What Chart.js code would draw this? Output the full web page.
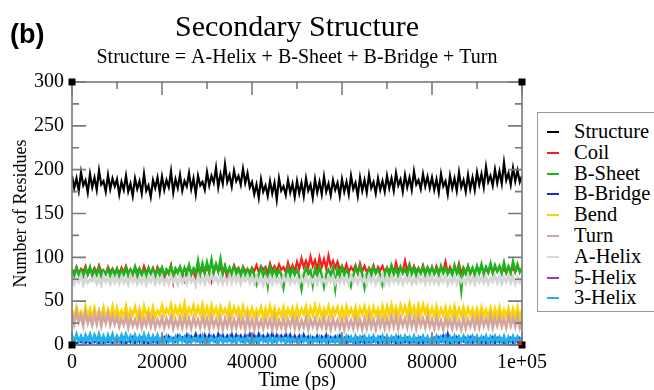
<!DOCTYPE html>
<html>
<head>
<meta charset="utf-8">
<script src="https://cdn.jsdelivr.net/npm/chart.js@4.4.1/dist/chart.umd.min.js"></script>
<style>
  body { margin: 0; background: #fff; }
  #contenedor { position: relative; width: 654px; height: 390px; overflow: hidden; }
  #etiqueta { position: absolute; left: 10px; top: 19px; font: bold 27px "Liberation Sans", Arial, sans-serif; }
  #leyenda { position: absolute; left: 537px; top: 112px; width: 135px; height: 198px; border: 1px solid #999; background: #fff; }
  .fila { position: absolute; left: 0; height: 21px; font: 20.5px "Liberation Serif", serif; line-height: 21px; }
  .fila span { position: absolute; left: 9px; top: 10px; width: 12px; height: 2px; }
  .fila b { position: absolute; left: 36px; font-weight: normal; white-space: nowrap; }
</style>
</head>
<body>
<div id="contenedor">
  <canvas id="myChart" width="654" height="390"></canvas>
  <div id="etiqueta">(b)</div>
  <div id="leyenda"></div>
</div>
<script>
const nombres = ["Structure","Coil","B-Sheet","B-Bridge","Bend","Turn","A-Helix","5-Helix","3-Helix"]
const colores = ["#000000","#ff1a1a","#1db31d","#1a2ec8","#fad400","#d4a59e","#d6d6d6","#9a3fb0","#22b2e8"]
const grosores = [2.2, 2.2, 2.5, 2, 2.6, 2.6, 2.8, 1.5, 2.8]
// capa de dibujo: numero mayor queda debajo
const capas = [9, 8, 7, 6, 5, 4, 3, 2, 1]

const tiempoFinal = 100000

// una fila = 10000 ps, una muestra cada 500 ps
const structure = [
  193,179,190,176,197,182,188,174,195,180,191,177,199,183,187,175,194,178,190,181,
  189,172,186,177,193,175,184,170,190,178,187,173,195,176,182,169,188,179,191,174,
  192,177,188,180,198,174,189,179,194,176,187,181,196,178,190,172,193,182,186,177,
  197,182,193,185,202,180,195,184,206,186,194,181,199,187,193,183,201,185,196,180,
  186,172,183,168,189,175,182,170,187,173,185,166,190,176,181,171,188,174,184,169,
  187,173,185,170,190,176,183,168,189,174,186,172,192,175,184,171,188,177,185,170,
  189,175,186,172,193,178,185,170,191,176,188,174,194,179,186,173,190,177,187,175,
  193,179,190,176,196,182,189,175,194,180,191,177,198,183,188,178,195,181,192,179,
  191,177,189,174,195,181,187,172,193,179,190,176,197,180,188,175,194,178,191,177,
  197,183,195,180,203,186,193,182,200,185,198,184,208,188,196,183,202,187,199,186,
  193
]
const coil = [
  86,82,89,81,87,84,90,80,86,83,88,82,91,84,85,81,89,83,87,82,
  87,81,88,83,90,82,86,80,89,84,87,81,90,83,86,82,88,80,89,84,
  88,73,86,83,91,72,87,84,89,82,74,86,90,83,87,71,88,84,86,82,
  89,83,73,86,92,84,88,82,90,74,87,83,91,85,88,82,89,84,87,83,
  88,84,91,83,90,86,89,82,93,85,90,84,92,86,89,83,94,85,91,84,
  95,87,99,89,96,88,101,90,97,86,100,89,98,87,102,90,96,88,95,87,
  90,84,92,83,89,85,91,82,93,84,90,83,88,84,91,82,89,85,90,83,
  88,83,91,82,94,84,89,83,96,85,92,83,90,84,88,82,91,83,89,84,
  87,82,90,83,88,84,95,82,89,83,87,84,93,82,88,83,90,81,87,82,
  88,83,89,84,87,82,90,83,88,84,89,83,87,82,90,84,88,83,89,84,
  86
]
const bSheet = [
  86,79,88,80,85,78,87,81,89,79,86,80,88,78,85,81,87,79,86,80,
  87,78,85,80,88,79,86,81,89,78,87,80,85,79,88,81,86,78,87,80,
  88,80,86,81,90,79,87,82,89,80,88,81,91,80,87,82,96,81,93,82,
  94,83,97,82,92,84,98,81,90,82,88,80,89,81,87,79,88,80,86,79,
  87,80,70,81,88,79,86,68,89,80,87,79,85,81,66,80,88,79,87,80,
  86,79,64,80,88,81,85,69,87,80,89,79,67,81,86,80,88,65,87,79,
  89,80,86,81,68,79,88,82,90,80,66,81,87,79,89,82,86,80,69,81,
  88,80,90,81,87,79,89,82,86,80,91,81,88,79,87,82,89,80,88,81,
  89,81,87,80,90,82,88,81,86,80,91,82,89,63,87,81,90,82,88,80,
  90,82,92,81,89,83,93,82,91,84,90,82,94,83,89,82,95,84,92,83,
  88
]
const bBridge = [
  2,6,1,5,3,7,2,6,1,5,3,6,1,7,2,5,3,6,2,5,
  3,7,2,8,1,6,3,9,2,7,3,8,2,6,1,7,3,8,2,7,
  4,9,3,10,5,8,4,11,6,9,5,12,4,10,6,13,5,11,4,12,
  5,12,6,11,4,13,7,12,5,11,6,13,5,12,7,11,4,12,6,13,
  6,12,4,13,7,11,5,12,6,14,5,12,7,11,6,13,5,12,4,11,
  5,11,4,12,6,10,3,9,5,11,4,10,5,12,3,9,4,10,5,11,
  3,8,2,9,4,7,2,8,3,9,2,7,3,8,4,7,2,9,3,8,
  2,7,3,8,1,9,2,7,3,8,2,6,3,7,1,8,2,7,3,6,
  2,8,3,9,4,11,3,13,2,8,3,9,2,7,4,8,3,9,2,8,
  3,7,2,8,1,7,3,9,2,8,3,7,2,6,3,8,2,7,3,8,
  4
]
const bend = [
  40,30,43,33,38,29,44,32,41,31,42,30,39,33,43,29,40,32,44,31,
  42,31,39,33,44,30,40,34,43,32,41,30,44,33,40,31,43,32,39,34,
  45,34,41,36,46,33,43,35,44,34,47,33,42,36,45,34,43,35,46,33,
  43,33,45,35,42,32,44,36,41,34,45,33,43,35,42,32,44,34,41,33,
  42,32,40,34,43,31,41,33,44,32,42,31,40,33,43,32,41,34,42,31,
  43,33,41,35,44,32,42,34,45,33,43,32,41,34,44,33,42,35,43,32,
  42,32,44,34,41,33,43,31,42,35,44,33,42,32,43,34,41,33,44,32,
  44,34,46,35,43,33,45,36,44,34,47,35,43,33,45,34,46,36,44,33,
  42,33,44,32,41,34,43,31,42,33,44,32,41,33,43,32,42,34,41,32,
  41,31,43,33,40,32,42,30,41,32,43,31,40,33,42,30,41,32,43,31,
  40
]
const turn = [
  36,24,38,26,34,22,37,25,33,23,35,24,37,22,34,25,36,23,33,24,
  32,21,30,23,33,20,31,22,29,21,32,20,30,22,33,21,31,20,29,22,
  31,20,30,22,32,19,29,21,31,20,32,21,30,19,31,22,29,20,32,21,
  30,19,32,21,29,20,31,18,30,21,32,19,29,20,31,21,30,18,32,20,
  29,18,31,20,28,19,30,21,29,18,31,19,28,20,30,18,29,21,31,19,
  30,19,28,20,31,18,29,21,30,19,28,20,31,19,29,18,30,20,28,19,
  29,18,30,20,28,19,31,20,29,18,30,19,32,20,29,18,31,21,30,19,
  30,20,32,21,33,19,31,22,30,20,33,21,31,19,32,22,30,20,33,21,
  29,19,31,20,28,18,30,21,29,19,31,20,28,18,30,19,29,21,31,20,
  31,20,32,22,30,21,33,20,31,22,32,21,30,20,33,22,31,21,32,20,
  30
]
const aHelix = [
  78,70,76,72,79,69,77,71,75,73,78,70,76,69,79,72,77,70,78,71,
  77,70,78,71,76,69,79,72,77,70,76,71,78,69,77,72,79,70,76,71,
  78,71,76,70,79,72,77,69,78,71,77,70,79,72,76,69,78,71,77,70,
  79,72,80,73,77,71,78,70,76,72,79,71,80,72,78,70,77,73,79,71,
  77,70,78,71,76,69,77,72,78,70,77,71,76,69,78,72,77,70,76,71,
  76,70,77,71,78,69,76,72,77,70,78,71,76,69,77,72,78,70,76,71,
  78,71,77,70,79,72,76,70,78,71,77,69,79,72,78,70,77,71,79,70,
  77,70,78,72,76,71,79,70,77,72,78,70,76,71,79,72,77,70,78,71,
  78,71,76,70,77,72,78,69,76,71,78,70,77,72,76,70,79,71,77,70,
  79,72,77,71,78,70,76,72,79,71,78,70,77,72,79,71,78,70,77,72,
  77
]
// 5-Helix queda en cero todo el tiempo
const helix5 = [0,0,0,0,0,0,0,0,0,0,0]
const helix3 = [
  11,3,12,4,10,2,11,5,12,3,11,4,12,2,10,3,11,4,12,3,
  10,4,11,3,12,5,10,3,11,4,10,3,12,4,11,2,10,4,11,3,
  9,3,10,4,8,2,9,3,10,4,9,2,10,3,8,4,9,3,10,2,
  8,3,9,4,8,2,9,3,8,4,9,3,8,2,9,4,8,3,9,2,
  9,3,8,2,9,4,8,3,9,2,8,3,9,4,8,2,9,3,8,4,
  8,3,9,4,8,2,9,3,8,4,9,3,8,2,9,4,8,3,9,2,
  9,3,10,4,9,2,10,3,9,4,10,3,9,2,10,4,9,3,10,2,
  10,3,9,4,10,2,9,3,10,4,9,3,10,2,9,4,10,3,9,2,
  9,3,10,2,9,4,10,3,9,2,10,3,9,4,10,2,9,3,10,4,
  10,3,9,4,10,2,9,3,10,4,9,3,10,2,9,4,10,3,9,2,
  9
]

const series = [structure, coil, bSheet, bBridge, bend, turn, aHelix, helix5, helix3]
const ticksY = [0, 50, 100, 150, 200, 250, 300]
const ticksX = [0, 20000, 40000, 60000, 80000, 100000]

const pintarLeyenda = () => {
  let leyenda = document.querySelector("#leyenda")
  for (let i = 0; i < nombres.length; i++) {
    let fila = document.createElement("div")
    fila.className = "fila"
    fila.style.top = (8 + i * 20.8) + "px"
    fila.innerHTML = `<span style="background:${colores[i]}"></span><b>${nombres[i]}</b>`
    leyenda.appendChild(fila)
  }
}

// marco de xmgrace: ticks hacia dentro en los cuatro lados
const marco = {
  id: "marco",
  afterDatasetsDraw(chart) {
    const ctx = chart.ctx
    const a = chart.chartArea
    const sx = chart.scales.x
    const sy = chart.scales.y
    ctx.save()
    ctx.strokeStyle = "#7a7a7a"
    ctx.lineWidth = 1.6
    ctx.strokeRect(a.left, a.top, a.right - a.left, a.bottom - a.top)
    ctx.beginPath()
    for (let v = 0; v <= 100000; v += 10000) {
      let px = sx.getPixelForValue(v)
      let largo = v % 20000 === 0 ? 13 : 7
      ctx.moveTo(px, a.top); ctx.lineTo(px, a.top + largo)
      ctx.moveTo(px, a.bottom); ctx.lineTo(px, a.bottom - largo)
    }
    for (let v = 0; v <= 300; v += 25) {
      let py = sy.getPixelForValue(v)
      let largo = v % 50 === 0 ? 14 : 7
      ctx.moveTo(a.left, py); ctx.lineTo(a.left + largo, py)
      ctx.moveTo(a.right, py); ctx.lineTo(a.right - largo, py)
    }
    ctx.stroke()
    ctx.fillStyle = "#000"
    const esquinas = [[a.left, a.top], [a.right, a.top], [a.left, a.bottom], [a.right, a.bottom]]
    esquinas.forEach(([x, y]) => ctx.fillRect(x - 3.5, y - 3.5, 7, 7))
    ctx.fillStyle = "#e02020"
    ctx.fillRect(a.right - 4, a.bottom - 4, 4, 4)
    ctx.restore()
  }
}

const crearGrafico = () => {
  const ctx = document.getElementById("myChart").getContext("2d")
  const datasets = series.map((valores, i) => ({
    label: nombres[i],
    data: valores.map((v, j) => ({ x: j * tiempoFinal / (valores.length - 1), y: v })),
    borderColor: colores[i],
    borderWidth: grosores[i],
    pointRadius: 0,
    tension: 0,
    order: capas[i]
  }))

  new Chart(ctx, {
    type: "line",
    data: { datasets: datasets },
    plugins: [marco],
    options: {
      responsive: false,
      animation: false,
      layout: { padding: { right: 132 } },
      plugins: {
        legend: { display: false },
        tooltip: { enabled: false },
        title: {
          display: true,
          text: "Secondary Structure",
          fullSize: false,
          color: "#000",
          font: { family: "Liberation Serif", size: 30, weight: "normal" },
          padding: { top: 10, bottom: 0 }
        },
        subtitle: {
          display: true,
          text: "Structure = A-Helix + B-Sheet + B-Bridge + Turn",
          fullSize: false,
          color: "#000",
          font: { family: "Liberation Serif", size: 20 },
          padding: { top: 0, bottom: 12 }
        }
      },
      scales: {
        x: {
          type: "linear",
          min: 0,
          max: tiempoFinal,
          afterBuildTicks: (s) => { s.ticks = ticksX.map((v) => ({ value: v })) },
          afterFit: (s) => { s.height = 45 },
          grid: { display: false, drawTicks: false },
          border: { display: false },
          ticks: {
            color: "#000",
            padding: 6,
            maxRotation: 0,
            font: { family: "Liberation Serif", size: 20 },
            callback: (v) => v === 100000 ? "1e+05" : String(v)
          },
          title: {
            display: true,
            text: "Time (ps)",
            color: "#000",
            font: { family: "Liberation Serif", size: 20 },
            padding: { top: 0, bottom: -3 }
          }
        },
        y: {
          min: 0,
          max: 300,
          afterBuildTicks: (s) => { s.ticks = ticksY.map((v) => ({ value: v })) },
          afterFit: (s) => { s.width = 72 },
          grid: { display: false, drawTicks: false },
          border: { display: false },
          ticks: {
            color: "#000",
            padding: 8,
            font: { family: "Liberation Serif", size: 20 }
          },
          title: {
            display: true,
            text: "Number of Residues",
            color: "#000",
            font: { family: "Liberation Serif", size: 18 },
            padding: { top: 10, bottom: 0 }
          }
        }
      }
    }
  })
}

pintarLeyenda()
crearGrafico()
</script>
</body>
</html>
